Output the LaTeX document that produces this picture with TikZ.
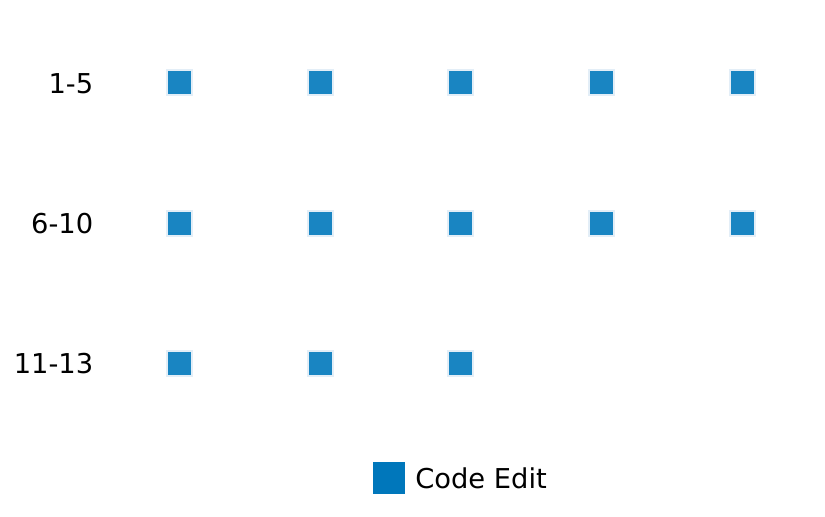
\documentclass[tikz,border=0pt]{standalone}
\usepackage{fontspec}
\setmainfont{DejaVu Sans}
\usetikzlibrary{positioning}

\definecolor{editblue}{HTML}{0077BB}
\definecolor{edgelight}{HTML}{E3EEF7}

\tikzset{
    cell/.style={rectangle, fill=editblue!90, draw=edgelight, line width=1.5pt,
                 minimum size=18.75pt, inner sep=0pt},
    rowlabel/.style={anchor=east, inner sep=0pt, font=\fontsize{20.5pt}{24pt}\selectfont},
    legendbox/.style={rectangle, fill=editblue, minimum size=24pt, inner sep=0pt},
    legendtext/.style={anchor=west, inner sep=0pt, font=\fontsize{20.5pt}{24pt}\selectfont}
}

\begin{document}
\begin{tikzpicture}[x=0.75pt, y=-0.75pt]

    \useasboundingbox (0,0) rectangle (825,517);

    % row labels
    \node[rowlabel] (r1) at (93.5,84)  {1-5};
    \node[rowlabel] (r2) at (93.5,224) {6-10};
    \node[rowlabel] (r3) at (93.5,364) {11-13};

    % cells
    \foreach \c/\x in {1/179,2/320,3/460,4/601,5/742}
        \node[cell] (c-1-\c) at (\x,83) {};
    \foreach \c/\x in {1/179,2/320,3/460,4/601,5/742}
        \node[cell] (c-2-\c) at (\x,223) {};
    \foreach \c/\x in {1/179,2/320,3/460}
        \node[cell] (c-3-\c) at (\x,363) {};

    % legend
    \node[legendbox] (key) at (389,478) {};
    \node[legendtext] (keytext) at (415,478) {Code Edit};
\end{tikzpicture}
\end{document}
